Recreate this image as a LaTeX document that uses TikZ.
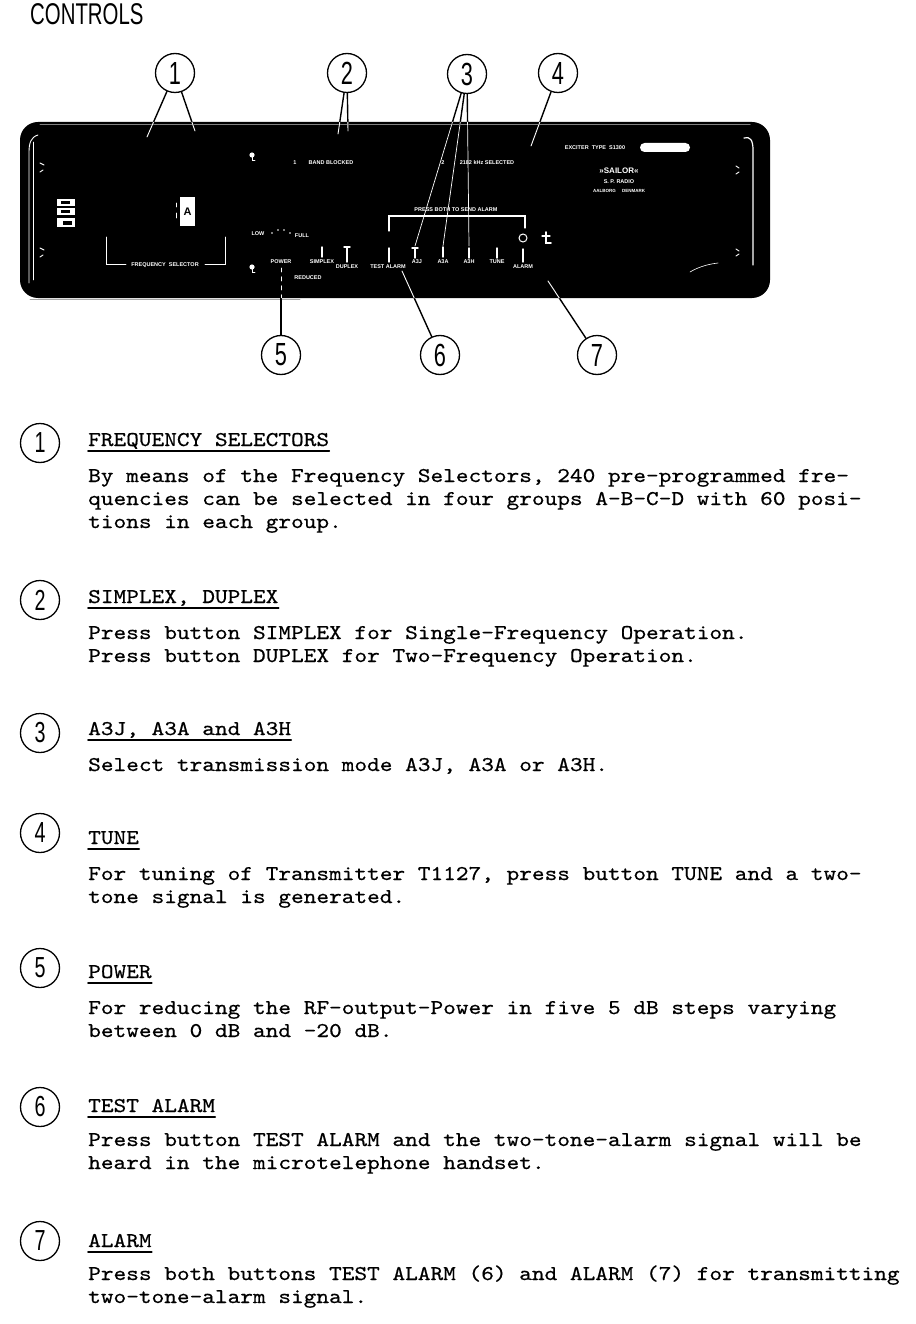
\documentclass[tikz,border=0pt]{standalone}
\usepackage{fontspec}
\newfontfamily\tw[FakeStretch=1.15, FakeBold=0.5]{lmmono10-regular.otf}
\newfontfamily\lab[FakeStretch=0.68]{Liberation Sans}
\newfontfamily\pan{Liberation Sans}
\tikzset{
  num/.style={circle, draw, line width=1.3pt, minimum size=39pt, inner sep=0pt, font=\lab\fontsize{32}{32}\selectfont},
  tnum/.style={circle, draw, line width=1.3pt, minimum size=39pt, inner sep=0pt, font=\lab\fontsize{29}{29}\selectfont},
  lead/.style={line width=1.4pt},
  leadw/.style={white, line width=0.9pt},
  txt/.style={anchor=base west, inner sep=0pt, font=\tw\fontsize{21}{24}\selectfont},
  uline/.style={line width=1.8pt},
  plab/.style={white, inner sep=0pt, font=\pan\bfseries\fontsize{5.5}{6}\selectfont},
  wbar/.style={white, line width=1.4pt},
  wline/.style={white, line width=0.9pt},
}
\begin{document}
\begin{tikzpicture}[x=1pt, y=-1pt, line cap=round]
\useasboundingbox (0,0) rectangle (915,1324);
\fill[white] (0,0) rectangle (915,1324);

% title
\node[anchor=base west, inner sep=0pt, font=\lab\fontsize{30}{30}\selectfont] (title) at (30,25) {CONTROLS};

% panel
\fill[black, rounded corners=18pt] (20,122) rectangle (770,298);
\draw[gray, line width=1pt] (40,125) -- (750,125);
\draw[gray!70, line width=0.8pt] (30,299) -- (300,299);

% callout circles
\node[num] (c1) at (175,73) {1};
\node[num] (c2) at (347,73) {2};
\node[num] (c3) at (467,74) {3};
\node[num] (c4) at (558,73) {4};
\node[num] (c5) at (281,355) {5};
\node[num] (c6) at (440,355) {6};
\node[num] (c7) at (597,355) {7};

% leader targets
\coordinate (t1a) at (147,137);
\coordinate (t1b) at (195,131);
\coordinate (t2a) at (338,134);
\coordinate (t2b) at (348,131);
\coordinate (t3a) at (415,246);
\coordinate (t3b) at (443,246);
\coordinate (t3c) at (469,246);
\coordinate (t4) at (531,146);
\coordinate (t5) at (281,268);
\coordinate (t6) at (402,271);
\coordinate (t7) at (548,281);

\draw[lead] (c1) -- (t1a);
\draw[lead] (c1) -- (t1b);
\draw[lead] (c2) -- (t2a);
\draw[lead] (c2) -- (t2b);
\draw[lead] (c3) -- (t3a);
\draw[lead] (c3) -- (t3b);
\draw[lead] (c3) -- (t3c);
\draw[lead] (c4) -- (t4);
\draw[lead] (c5) -- (t5);
\draw[lead] (c6) -- (t6);
\draw[lead] (c7) -- (t7);

\begin{scope}
\clip[rounded corners=18pt] (20,122) rectangle (770,298);
\draw[leadw] (c1) -- (t1a);
\draw[leadw] (c1) -- (t1b);
\draw[leadw] (c2) -- (t2a);
\draw[leadw] (c2) -- (t2b);
\draw[leadw, line width=0.7pt] (c3) -- (t3a);
\draw[leadw, line width=0.7pt] (c3) -- (t3b);
\draw[leadw, line width=0.7pt] (c3) -- (t3c);
\draw[leadw] (c4) -- (t4);
\draw[leadw, dash pattern=on 4pt off 5pt] (c5) -- (t5);
\draw[leadw] (c6) -- (t6);
\draw[leadw] (c7) -- (t7);
\end{scope}

% panel edge details
\draw[wline] (38,135) .. controls (31,137) and (29,143) .. (29,152) -- (29,283);
\draw[white, line width=0.5pt] (33,142) -- (33,280);
\draw[wline] (40,163) -- (44,165);
\draw[wline] (40,172) -- (43,170);
\draw[wline] (40,248) -- (44,250);
\draw[wline] (40,257) -- (43,255);
\draw[white, line width=1.2pt] (744,138) .. controls (750,136) and (753,140) .. (753,150) -- (753,265);
\draw[wline] (736,166) -- (739,168);
\draw[wline] (736,174) -- (739,172);
\draw[wline] (736,249) -- (739,251);
\draw[wline] (736,256) -- (739,254);
\draw[white, line width=0.6pt] (690,272) .. controls (700,266) and (710,264) .. (718,263);

% left small labels
\fill[white] (57,199) rectangle (75,206);
\fill[white] (57,208) rectangle (75,215);
\fill[white] (57,218) rectangle (75,227);
\fill[black] (61,201) rectangle (70,204);
\fill[black] (61,210) rectangle (70,213);
\fill[black] (63,221) rectangle (72,225);

% frequency selector window
\fill[white] (180,197) rectangle (195,226);
\node[inner sep=0pt, font=\pan\bfseries\fontsize{11}{11}\selectfont] (winA) at (187.5,212) {A};
\draw[wline] (176,203) -- (176,207);
\draw[wline] (176,213) -- (176,218);
\draw[wline] (106,237) -- (106,264) -- (126,264);
\draw[wline] (205,264) -- (225,264) -- (225,237);
\node[plab] (fsel) at (165,265) {FREQUENCY\ \ SELECTOR};

% knobs
\fill[white] (252,155) circle (2.6pt);
\draw[wline] (252,157) -- (252,160) -- (255,160);
\fill[white] (252,267) circle (2.6pt);
\draw[wline] (252,269) -- (252,272) -- (255,272);

% lamp labels
\node[plab] (l1) at (295,163) {1};
\node[plab] (bandb) at (331,163) {BAND BLOCKED};
\node[plab] (l2) at (443,163) {2};
\node[plab] (sel) at (487,163) {2182 kHz SELECTED};

% maker labels
\node[plab] (exc) at (595,148) {EXCITER\ \ TYPE\ \ S1300};
\fill[white, rounded corners=4.5pt] (640,143) rectangle (690,152);
\node[plab, font=\pan\bfseries\fontsize{8}{8}\selectfont] (sailor) at (619,171) {»SAILOR«};
\node[plab] (spr) at (619,182) {S. P. RADIO};
\node[plab, font=\pan\bfseries\fontsize{4.5}{5}\selectfont] (aal) at (619,191) {AALBORG\ \ \ \ \ DENMARK};

% power control
\node[plab] (low) at (258,234) {LOW};
\node[plab] (full) at (302,236) {FULL};
\foreach \px/\py in {272/233,278/230,284/230,290/233} \fill[white] (\px,\py) circle (0.9pt);
\node[plab] (power) at (281,262) {POWER};
\node[plab] (reduced) at (308,278) {REDUCED};

% alarm bracket
\node[plab] (press) at (456,210) {PRESS BOTH TO SEND ALARM};
\draw[white, line width=1.2pt] (389,231) -- (389,216) -- (525,216) -- (525,228);
\draw[white, line width=1pt] (523,238) circle (4pt);
\draw[white, line width=1.6pt] (546,232) -- (546,243) -- (551,243);
\draw[white, line width=1.2pt] (542,236) -- (550,236);

% buttons
\draw[wbar] (322,247) -- (322,257);
\draw[wbar] (347,248) -- (347,262);
\draw[wbar] (344,247) -- (350,247);
\draw[wbar] (389,248) -- (389,262);
\draw[wbar] (415,249) -- (415,258);
\draw[wbar] (412,248) -- (418,248);
\draw[wbar] (443,247) -- (443,257);
\draw[wbar] (469,248) -- (469,258);
\draw[wbar] (497,248) -- (497,258);
\draw[wbar] (523,249) -- (523,262);
\node[plab] (simplex) at (322,262) {SIMPLEX};
\node[plab] (duplex) at (347,267) {DUPLEX};
\node[plab] (testal) at (388,267) {TEST ALARM};
\node[plab] (a3j) at (417,262) {A3J};
\node[plab] (a3a) at (443,262) {A3A};
\node[plab] (a3h) at (469,262) {A3H};
\node[plab] (tune) at (497,262) {TUNE};
\node[plab] (alarm) at (523,267) {ALARM};

% ---- descriptions ----
\node[tnum] (n1) at (40,443) {1};
\node[txt] (h1) at (88,446) {FREQUENCY SELECTORS};
\draw[uline] ([yshift=-5pt]h1.base west) -- ([yshift=-5pt]h1.base east);
\node[txt] (b1a) at (88,482) {By means of the Frequency Selectors, 240 pre-programmed fre-};
\node[txt] (b1b) at (88,505) {quencies can be selected in four groups A-B-C-D with 60 posi-};
\node[txt] (b1c) at (88,528) {tions in each group.};

\node[tnum] (n2) at (40,600) {2};
\node[txt] (h2) at (88,603) {SIMPLEX, DUPLEX};
\draw[uline] ([yshift=-5pt]h2.base west) -- ([yshift=-5pt]h2.base east);
\node[txt] (b2a) at (88,639) {Press button SIMPLEX for Single-Frequency Operation.};
\node[txt] (b2b) at (88,662) {Press button DUPLEX for Two-Frequency Operation.};

\node[tnum] (n3) at (40,733) {3};
\node[txt] (h3) at (88,735) {A3J, A3A and A3H};
\draw[uline] ([yshift=-5pt]h3.base west) -- ([yshift=-5pt]h3.base east);
\node[txt] (b3a) at (88,771) {Select transmission mode A3J, A3A or A3H.};

\node[tnum] (n4) at (40,833) {4};
\node[txt] (h4) at (88,844) {TUNE};
\draw[uline] ([yshift=-5pt]h4.base west) -- ([yshift=-5pt]h4.base east);
\node[txt] (b4a) at (88,880) {For tuning of Transmitter T1127, press button TUNE and a two-};
\node[txt] (b4b) at (88,903) {tone signal is generated.};

\node[tnum] (n5) at (40,968) {5};
\node[txt] (h5) at (88,978) {POWER};
\draw[uline] ([yshift=-5pt]h5.base west) -- ([yshift=-5pt]h5.base east);
\node[txt] (b5a) at (88,1014) {For reducing the RF-output-Power in five 5 dB steps varying};
\node[txt] (b5b) at (88,1037) {between 0 dB and -20 dB.};

\node[tnum] (n6) at (40,1107) {6};
\node[txt] (h6) at (88,1112) {TEST ALARM};
\draw[uline] ([yshift=-5pt]h6.base west) -- ([yshift=-5pt]h6.base east);
\node[txt] (b6a) at (88,1146) {Press button TEST ALARM and the two-tone-alarm signal will be};
\node[txt] (b6b) at (88,1169) {heard in the microtelephone handset.};

\node[tnum] (n7) at (40,1241) {7};
\node[txt] (h7) at (88,1247) {ALARM};
\draw[uline] ([yshift=-5pt]h7.base west) -- ([yshift=-5pt]h7.base east);
\node[txt] (b7a) at (88,1280) {Press both buttons TEST ALARM (6) and ALARM (7) for transmitting};
\node[txt] (b7b) at (88,1303) {two-tone-alarm signal.};
\end{tikzpicture}
\end{document}
